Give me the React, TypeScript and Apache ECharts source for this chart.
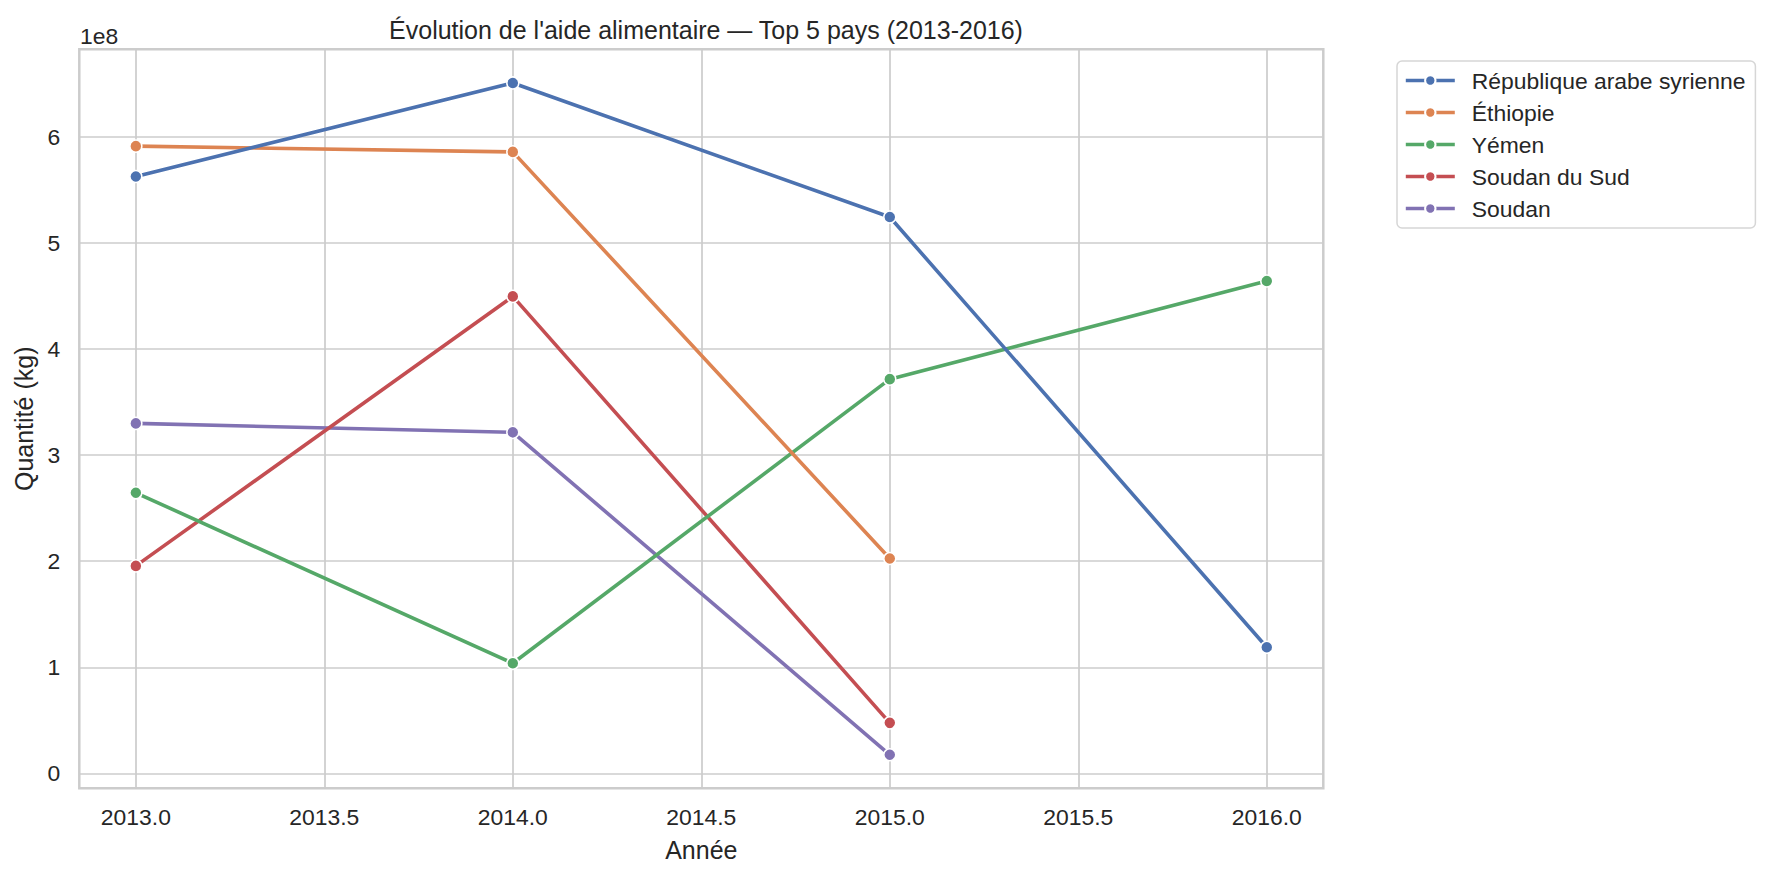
import { useEffect, useRef } from "react";
import * as echarts from "echarts";

// Données (kg)
const years = [2013, 2014, 2015, 2016];
const countries = [
  "République arabe syrienne",
  "Éthiopie",
  "Yémen",
  "Soudan du Sud",
  "Soudan",
];
const syrie = [562.6e6, 650.8e6, 524.4e6, 118.9e6];
const ethiopie = [591.2e6, 585.8e6, 202.6e6];
const yemen = [264.5e6, 103.8e6, 371.6e6, 464.1e6];
const soudanSud = [195.6e6, 449.6e6, 47.7e6];
const soudan = [329.9e6, 321.5e6, 17.6e6];
const seriesValues = [syrie, ethiopie, yemen, soudanSud, soudan];
const colors = ["#4C72B0", "#DD8452", "#55A868", "#C44E52", "#8172B3"];

const xTicks = [2013, 2013.5, 2014, 2014.5, 2015, 2015.5, 2016];
const yTicks = [0, 1e8, 2e8, 3e8, 4e8, 5e8, 6e8];

const FONT = "'Liberation Sans', Arial, sans-serif";
const TEXT = "#262626";
const GRID = "#cccccc";

export default function App() {
  const chartRef = useRef<HTMLDivElement>(null);

  useEffect(() => {
    if (!chartRef.current) return;
    const chart = echarts.init(chartRef.current, null, { renderer: "svg" });

    const option: echarts.EChartsOption = {
      animation: false,
      backgroundColor: "#ffffff",
      textStyle: { fontFamily: FONT, color: TEXT },
      title: {
        text: "Évolution de l'aide alimentaire — Top 5 pays (2013-2016)",
        left: 701,
        textAlign: "center",
        top: 12,
        textStyle: {
          fontSize: 25,
          fontWeight: "normal",
          color: TEXT,
          fontFamily: FONT,
        },
      },
      graphic: [
        {
          type: "text",
          left: 80,
          top: 24,
          style: {
            text: "1e8",
            fontSize: 22.9,
            fill: TEXT,
            fontFamily: FONT,
          },
        },
      ],
      legend: {
        orient: "vertical",
        left: 1397,
        top: 61,
        padding: [8, 10, 8, 7],
        itemGap: 9,
        itemWidth: 49,
        itemHeight: 13,
        borderColor: "#d6d6d6",
        borderWidth: 1.5,
        borderRadius: 5,
        backgroundColor: "#ffffff",
        lineStyle: { width: 3.6 },
        textStyle: {
          fontSize: 22.9,
          color: TEXT,
          fontFamily: FONT,
          padding: [0, 0, 0, 12],
        },
        data: countries,
      },
      grid: {
        left: 79.3,
        right: 1768 - 1323.3,
        top: 49.3,
        bottom: 874 - 788.3,
        show: true,
        borderColor: GRID,
        borderWidth: 2.5,
        backgroundColor: "transparent",
        containLabel: false,
        outerBoundsMode: "none",
      } as any,
      xAxis: {
        type: "value",
        min: 2012.85,
        max: 2016.15,
        name: "Année",
        nameLocation: "middle",
        nameGap: 49,
        nameTextStyle: { fontSize: 25, color: TEXT, fontFamily: FONT },
        axisLine: { show: false },
        axisTick: { show: false, customValues: xTicks },
        axisLabel: {
          customValues: xTicks,
          fontSize: 22.9,
          color: TEXT,
          margin: 17,
          formatter: (v: number) => v.toFixed(1),
        },
        splitLine: { show: true, lineStyle: { color: GRID, width: 1.7 } },
      },
      yAxis: {
        type: "value",
        min: -14e6,
        max: 682.5e6,
        name: "Quantité (kg)",
        nameLocation: "middle",
        nameGap: 43,
        nameTextStyle: { fontSize: 25, color: TEXT, fontFamily: FONT },
        axisLine: { show: false },
        axisTick: { show: false, customValues: yTicks },
        axisLabel: {
          customValues: yTicks,
          fontSize: 22.9,
          color: TEXT,
          margin: 19,
          formatter: (v: number) => String(Math.round(v / 1e8)),
        },
        splitLine: { show: true, lineStyle: { color: GRID, width: 1.7 } },
      },
      series: countries.map((name, i) => ({
        name,
        type: "line",
        data: seriesValues[i].map((v, j) => [years[j], v]),
        color: colors[i],
        symbol: "circle",
        symbolSize: 12,
        showSymbol: true,
        lineStyle: { width: 3.6, color: colors[i] },
        itemStyle: {
          color: colors[i],
          borderColor: "#ffffff",
          borderWidth: 1.5,
        },
        z: 10 - i,
      })),
    };

    chart.setOption(option);
    return () => chart.dispose();
  }, []);

  return (
    <div
      ref={chartRef}
      style={{
        position: "absolute",
        left: 0,
        top: 0,
        width: 1768,
        height: 874,
      }}
    />
  );
}
